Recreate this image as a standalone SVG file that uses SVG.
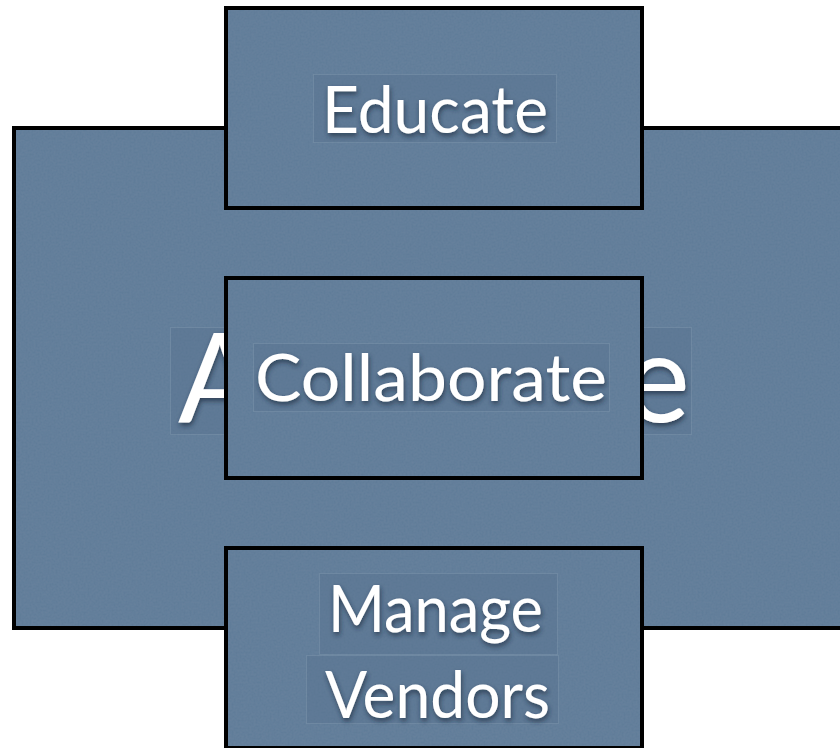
<svg xmlns="http://www.w3.org/2000/svg" width="840" height="748" viewBox="0 0 840 748">
  <style>
    .fill { fill: #5f7a97; filter: url(#grain); }
    .edge { fill: none; stroke: #000; stroke-width: 4; }
    .tagbg { fill: #55708c; fill-opacity: 0.35; stroke: #8ea4bb; stroke-opacity: 0.3; stroke-width: 1; }
    .label { font-family: Lato, "Open Sans", sans-serif; font-size: 66px; fill: #ffffff; filter: url(#shadow); }
    .big { font-size: 124px; }
  </style>
  <defs>
    <!-- fine paper-like grain over the panel fill -->
    <filter id="grain" x="0" y="0" width="100%" height="100%">
      <feTurbulence type="fractalNoise" baseFrequency="0.5" numOctaves="2" seed="7" result="noise"/>
      <feColorMatrix in="noise" type="matrix" values="0 0 0 0 0.30  0 0 0 0 0.40  0 0 0 0 0.52  0 0 0 0.15 0" result="tint"/>
      <feComposite in="tint" in2="SourceGraphic" operator="in" result="grainMask"/>
      <feMerge>
        <feMergeNode in="SourceGraphic"/>
        <feMergeNode in="grainMask"/>
      </feMerge>
    </filter>
    <filter id="shadow" x="-10%" y="-20%" width="120%" height="150%">
      <feDropShadow dx="1" dy="3" stdDeviation="2.5" flood-color="#1c2a3a" flood-opacity="0.7"/>
    </filter>
  </defs>

  <rect width="840" height="748" fill="#ffffff"/>

  <g id="advocate">
    <rect class="fill" x="14" y="128" width="840" height="500"/>
    <rect class="edge" x="14" y="128" width="840" height="500"/>
    <rect class="tagbg" x="170.5" y="327.5" width="521" height="107"/>
    <text class="label big" x="178" y="422" textLength="512" lengthAdjust="spacingAndGlyphs">Advocate</text>
  </g>

  <g id="educate">
    <rect class="fill" x="226" y="8" width="416" height="200"/>
    <rect class="edge" x="226" y="8" width="416" height="200"/>
    <rect class="tagbg" x="313.5" y="74.5" width="243" height="68"/>
    <text class="label" x="322" y="133" textLength="226" lengthAdjust="spacingAndGlyphs">Educate</text>
  </g>

  <g id="collaborate">
    <rect class="fill" x="226" y="278" width="416" height="200"/>
    <rect class="edge" x="226" y="278" width="416" height="200"/>
    <rect class="tagbg" x="253.5" y="343.5" width="356" height="68"/>
    <text class="label" x="255" y="401" textLength="352" lengthAdjust="spacingAndGlyphs">Collaborate</text>
  </g>

  <g id="manage-vendors">
    <rect class="fill" x="226" y="548" width="416" height="200"/>
    <rect class="edge" x="226" y="548" width="416" height="200"/>
    <rect class="tagbg" x="319.5" y="573.5" width="238" height="81"/>
    <rect class="tagbg" x="306.5" y="655.5" width="252" height="68"/>
    <text class="label" x="328" y="632" textLength="215" lengthAdjust="spacingAndGlyphs">Manage</text>
    <text class="label" x="325" y="718" textLength="225" lengthAdjust="spacingAndGlyphs">Vendors</text>
  </g>
</svg>
